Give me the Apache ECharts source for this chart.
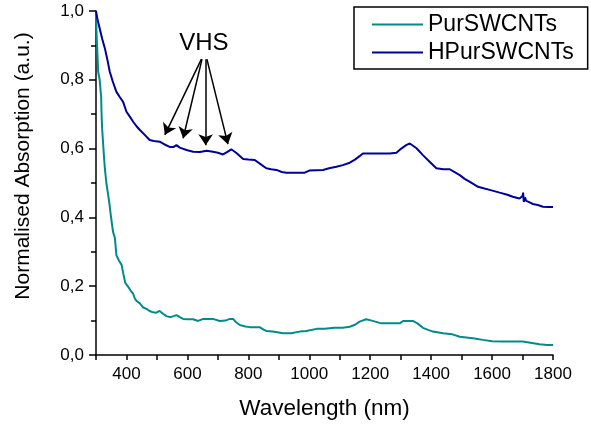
<!DOCTYPE html>
<html>
<head>
<meta charset="utf-8">
<script src="https://cdn.jsdelivr.net/npm/echarts@6/dist/echarts.min.js"></script>
<style>
html,body{margin:0;padding:0;background:#fff;}
#chart{width:591px;height:427px;}
</style>
</head>
<body>
<div id="chart"></div>
<script>
const seriesNames = ['PurSWCNTs', 'HPurSWCNTs'];
const xTitle = 'Wavelength (nm)';
const yTitle = 'Normalised Absorption (a.u.)';
const annotationText = 'VHS';

// PurSWCNTs: [wavelength nm, normalised absorption]
const purData = [
[300,1.000],[301,0.960],[302,0.930],[305,0.870],[307,0.824],[312,0.800],[315,0.795],[317,0.750],
[318,0.707],[320,0.660],[323,0.620],[326,0.580],[329,0.543],[334,0.500],[340,0.465],[344,0.440],
[348,0.410],[352,0.383],[356,0.358],[362,0.340],[367,0.290],[375,0.275],[384,0.262],[390,0.235],
[396,0.210],[405,0.199],[416,0.184],[422,0.178],[427,0.165],[433,0.157],[444,0.150],[455,0.138],
[466,0.134],[476,0.128],[487,0.124],[498,0.123],[509,0.128],[520,0.120],[531,0.113],[545,0.110],
[564,0.116],[575,0.110],[586,0.105],[600,0.104],[619,0.104],[635,0.099],[652,0.105],[670,0.105],
[684,0.105],[706,0.099],[725,0.100],[739,0.105],[750,0.105],[760,0.095],[772,0.087],[790,0.083],
[805,0.081],[837,0.081],[850,0.074],[859,0.070],[880,0.068],[914,0.063],[940,0.063],[969,0.068],
[990,0.070],[1024,0.076],[1050,0.076],[1083,0.079],[1110,0.079],[1133,0.082],[1150,0.088],[1165,0.097],
[1187,0.104],[1205,0.100],[1237,0.092],[1270,0.092],[1297,0.092],[1308,0.099],[1340,0.099],[1355,0.092],
[1373,0.079],[1390,0.073],[1406,0.068],[1439,0.063],[1470,0.060],[1494,0.053],[1537,0.049],[1570,0.044],
[1600,0.040],[1636,0.039],[1701,0.039],[1703,0.043],[1705,0.039],[1756,0.031],[1780,0.029],[1800,0.029]
];

// HPurSWCNTs: [wavelength nm, normalised absorption]
const hpurData = [
[300,1.000],[305,0.975],[312,0.950],[320,0.920],[329,0.892],[337,0.860],[345,0.824],[355,0.795],
[367,0.765],[378,0.750],[389,0.736],[400,0.707],[411,0.693],[422,0.678],[433,0.665],[444,0.654],
[460,0.640],[476,0.625],[490,0.622],[509,0.620],[525,0.612],[542,0.605],[555,0.605],[564,0.610],
[575,0.603],[597,0.596],[619,0.591],[641,0.590],[663,0.594],[684,0.591],[700,0.588],[717,0.583],
[730,0.590],[744,0.598],[760,0.588],[783,0.570],[800,0.568],[821,0.567],[840,0.555],[859,0.543],
[875,0.540],[892,0.538],[910,0.532],[925,0.530],[950,0.530],[985,0.530],[1000,0.536],[1045,0.538],
[1065,0.543],[1089,0.547],[1110,0.552],[1133,0.559],[1150,0.568],[1165,0.578],[1176,0.586],[1200,0.586],
[1242,0.586],[1264,0.586],[1286,0.588],[1302,0.600],[1318,0.610],[1330,0.615],[1352,0.601],[1373,0.581],
[1395,0.562],[1417,0.543],[1440,0.540],[1461,0.540],[1480,0.530],[1494,0.523],[1510,0.512],[1526,0.504],
[1554,0.489],[1575,0.484],[1592,0.480],[1625,0.472],[1650,0.466],[1668,0.460],[1690,0.455],[1700,0.462],
[1702,0.472],[1704,0.445],[1708,0.458],[1712,0.448],[1720,0.445],[1734,0.439],[1750,0.436],[1767,0.431],
[1785,0.430],[1800,0.430]
];

// VHS arrows: [startX, startY, tipX, tipY] in data units
const vhsArrows = [
[646,0.860,526,0.640],
[648,0.860,586,0.630],
[660,0.860,660,0.610],
[664,0.860,733,0.613]
];
const vhsLabelPos = [654, 0.907];

const colors = ['#008B8B', '#000099'];
const FONT = 'Liberation Sans, Arial, sans-serif';

const chart = echarts.init(document.getElementById('chart'), null, {renderer:'canvas'});
chart.setOption({
  animation: false,
  backgroundColor: '#ffffff',
  color: colors,
  grid: {left: 96, right: 38, top: 11, bottom: 72},
  legend: {
    orient: 'vertical',
    left: 354, top: 7,
    padding: [6, 14, 5, 18],
    borderColor: '#000', borderWidth: 1.5,
    itemWidth: 51, itemHeight: 2, itemGap: 5,
    icon: 'rect',
    textStyle: {fontFamily: FONT, fontSize: 23, color: '#000'},
    data: seriesNames
  },
  xAxis: {
    type: 'value', min: 300, max: 1800, interval: 100,
    name: xTitle, nameLocation: 'middle', nameGap: 42,
    nameTextStyle: {fontFamily: FONT, fontSize: 22.5, color: '#000'},
    axisLine: {show: true, lineStyle: {color: '#000', width: 1.5}},
    axisTick: {show: true, inside: false, length: 5, lineStyle: {color: '#000', width: 1.5}},
    axisLabel: {margin: 11, fontFamily: FONT, fontSize: 17, color: '#000',
      formatter: v => (v % 200 === 0 ? String(v) : '')},
    splitLine: {show: false}
  },
  yAxis: {
    type: 'value', min: 0, max: 1, interval: 0.2,
    axisLine: {show: true, lineStyle: {color: '#000', width: 1.5}},
    axisTick: {show: true, inside: false, length: 7, lineStyle: {color: '#000', width: 1.5}},
    minorTick: {show: true, splitNumber: 2, length: 5, lineStyle: {color: '#000', width: 1.5}},
    axisLabel: {margin: 12, fontFamily: FONT, fontSize: 17, color: '#000',
      formatter: v => v.toFixed(1).replace('.', ',')},
    splitLine: {show: false}
  },
  graphic: [{
    type: 'text', x: 23, y: 166, rotation: Math.PI / 2,
    style: {text: yTitle, fontFamily: FONT, fontSize: 21, fill: '#000',
      textAlign: 'center', textVerticalAlign: 'middle'}
  }],
  series: [
    {
      name: seriesNames[0], type: 'line', data: purData, symbol: 'none',
      lineStyle: {width: 2, color: colors[0]}, itemStyle: {color: colors[0]}
    },
    {
      name: seriesNames[1], type: 'line', data: hpurData, symbol: 'none',
      lineStyle: {width: 2, color: colors[1]}, itemStyle: {color: colors[1]},
      markLine: {
        silent: true, symbol: ['none', 'arrow'], symbolSize: 11, precision: 3,
        label: {show: false},
        lineStyle: {color: '#000', width: 1.5, type: 'solid'},
        itemStyle: {color: '#000'},
        emphasis: {disabled: true},
        data: vhsArrows.map(a => [{coord: [a[0], a[1]]}, {coord: [a[2], a[3]]}])
      },
      markPoint: {
        silent: true, symbol: 'circle', symbolSize: 0,
        label: {show: true, position: 'inside', formatter: annotationText,
          fontFamily: FONT, fontSize: 24, color: '#000'},
        data: [{coord: vhsLabelPos}]
      }
    }
  ]
});
</script>
</body>
</html>
